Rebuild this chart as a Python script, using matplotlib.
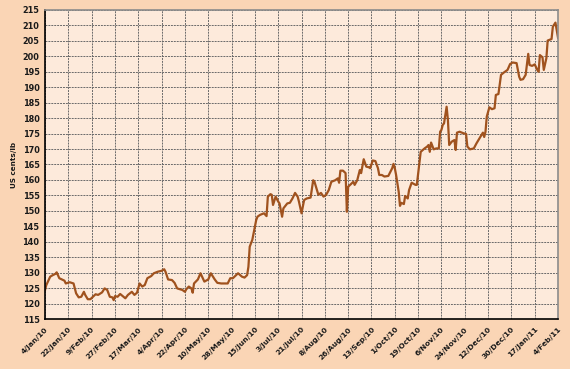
import pandas as pd
import matplotlib.pyplot as plt

# Daily price readings (US cents/lb)
dates = [
    "2010-01-04", "2010-01-05", "2010-01-08", "2010-01-10", "2010-01-12", "2010-01-13",
    "2010-01-15", "2010-01-17", "2010-01-19", "2010-01-20", "2010-01-23", "2010-01-26",
    "2010-01-28", "2010-01-30", "2010-02-01", "2010-02-03", "2010-02-04", "2010-02-06",
    "2010-02-08", "2010-02-10", "2010-02-12", "2010-02-14", "2010-02-17", "2010-02-19",
    "2010-02-21", "2010-02-23", "2010-02-25", "2010-02-26", "2010-02-27", "2010-03-01",
    "2010-03-03", "2010-03-07", "2010-03-09", "2010-03-12", "2010-03-14", "2010-03-16",
    "2010-03-18", "2010-03-20", "2010-03-22", "2010-03-24", "2010-03-27", "2010-03-29",
    "2010-04-01", "2010-04-04", "2010-04-06", "2010-04-07", "2010-04-09", "2010-04-12",
    "2010-04-14", "2010-04-16", "2010-04-20", "2010-04-22", "2010-04-23", "2010-04-25",
    "2010-04-27", "2010-04-28", "2010-04-29", "2010-05-02", "2010-05-04", "2010-05-07",
    "2010-05-10", "2010-05-12", "2010-05-15", "2010-05-17", "2010-05-20", "2010-05-22",
    "2010-05-25", "2010-05-27", "2010-05-29", "2010-06-02", "2010-06-05", "2010-06-07",
    "2010-06-09", "2010-06-10", "2010-06-11", "2010-06-13", "2010-06-14", "2010-06-16",
    "2010-06-17", "2010-06-19", "2010-06-22", "2010-06-24", "2010-06-25", "2010-06-27",
    "2010-06-28", "2010-06-29", "2010-07-01", "2010-07-03", "2010-07-04", "2010-07-06",
    "2010-07-07", "2010-07-10", "2010-07-12", "2010-07-14", "2010-07-16", "2010-07-18",
    "2010-07-19", "2010-07-21", "2010-07-23", "2010-07-25", "2010-07-28", "2010-07-30",
    "2010-07-31", "2010-08-03", "2010-08-05", "2010-08-07", "2010-08-09", "2010-08-11",
    "2010-08-13", "2010-08-16", "2010-08-18", "2010-08-19", "2010-08-20", "2010-08-22",
    "2010-08-24", "2010-08-25", "2010-08-26", "2010-08-28", "2010-08-30", "2010-08-31",
    "2010-09-02", "2010-09-04", "2010-09-05", "2010-09-07", "2010-09-09", "2010-09-11",
    "2010-09-12", "2010-09-14", "2010-09-16", "2010-09-18", "2010-09-19", "2010-09-21",
    "2010-09-23", "2010-09-26", "2010-09-29", "2010-09-30", "2010-10-01", "2010-10-02",
    "2010-10-04", "2010-10-05", "2010-10-06", "2010-10-08", "2010-10-09", "2010-10-11",
    "2010-10-12", "2010-10-14", "2010-10-17", "2010-10-18", "2010-10-21", "2010-10-24",
    "2010-10-26", "2010-10-27", "2010-10-28", "2010-10-29", "2010-10-31", "2010-11-02",
    "2010-11-04", "2010-11-05", "2010-11-06", "2010-11-07", "2010-11-08", "2010-11-10",
    "2010-11-11", "2010-11-12", "2010-11-14", "2010-11-16", "2010-11-17", "2010-11-18",
    "2010-11-20", "2010-11-23", "2010-11-25", "2010-11-26", "2010-11-28", "2010-12-01",
    "2010-12-03", "2010-12-06", "2010-12-08", "2010-12-09", "2010-12-10", "2010-12-11",
    "2010-12-13", "2010-12-15", "2010-12-17", "2010-12-18", "2010-12-20", "2010-12-22",
    "2010-12-24", "2010-12-25", "2010-12-27", "2010-12-29", "2010-12-31", "2011-01-03",
    "2011-01-05", "2011-01-06", "2011-01-08", "2011-01-10", "2011-01-12", "2011-01-13",
    "2011-01-15", "2011-01-17", "2011-01-19", "2011-01-20", "2011-01-21", "2011-01-23",
    "2011-01-24", "2011-01-26", "2011-01-27", "2011-01-30", "2011-01-31", "2011-02-02",
    "2011-02-04",
]
prices = [
    124.4, 126.0, 128.7, 129.2, 129.6, 130.1,
    128.2, 127.8, 127.4, 126.5, 126.9, 126.5,
    123.3, 122.0, 122.2, 123.8, 122.8, 121.4,
    121.4, 122.2, 123.0, 122.8, 123.6, 124.9,
    124.4, 122.2, 122.0, 121.1, 122.4, 122.2,
    123.1, 121.7, 122.8, 123.8, 122.8, 123.5,
    126.5, 125.5, 126.0, 128.2, 128.9, 129.8,
    130.3, 130.6, 131.1, 130.3, 127.8, 127.6,
    126.7, 124.9, 124.4, 123.8, 124.6, 125.5,
    124.9, 123.5, 126.5, 127.8, 129.8, 127.1,
    127.8, 129.8, 127.8, 126.7, 126.5, 126.5,
    126.5, 128.2, 128.2, 129.8, 128.7, 128.4,
    129.2, 131.9, 138.4, 140.6, 142.7, 147.0,
    148.1, 148.7, 149.2, 148.3, 154.6, 155.4,
    155.2, 151.9, 154.6, 153.0, 152.4, 148.1,
    150.8, 152.4, 152.6, 154.0, 155.8, 154.6,
    153.0, 149.2, 153.5, 154.0, 154.3, 159.9,
    159.4, 155.2, 155.8, 154.6, 155.2, 156.7,
    159.4, 159.9, 160.5, 159.1, 163.0, 163.0,
    162.2, 149.7, 157.8, 158.6, 159.4, 158.4,
    159.9, 163.2, 162.2, 166.7, 164.3, 164.1,
    163.8, 166.3, 166.1, 163.8, 161.6, 161.6,
    161.1, 161.3, 163.8, 165.2, 163.8, 161.6,
    156.2, 151.6, 152.6, 152.2, 154.8, 154.0,
    156.7, 159.1, 158.4, 158.4, 169.1, 170.2,
    170.8, 171.3, 169.1, 172.1, 169.9, 170.2,
    170.2, 175.6, 176.2, 177.8, 178.3, 183.7,
    179.4, 171.3, 172.4, 172.9, 169.7, 175.3,
    175.6, 175.1, 174.9, 170.8, 169.9, 170.2,
    171.8, 173.9, 175.3, 173.9, 175.6, 180.5,
    183.5, 182.9, 183.2, 187.5, 187.8, 194.0,
    194.7, 195.0, 195.6, 197.5, 198.0, 197.8,
    193.4, 192.4, 192.6, 194.0, 200.8, 197.2,
    196.9, 197.4, 195.6, 195.0, 200.4, 199.7,
    195.6, 199.4, 205.1, 205.6, 209.6, 210.9,
    206.0,
]

start = pd.Timestamp("2010-01-04")
end = pd.Timestamp("2011-02-04")
x = pd.to_datetime(dates)

fig = plt.figure(figsize=(5.7, 3.69), dpi=100)
fig.patch.set_facecolor("#FAD5B5")
ax = fig.add_axes([0.079, 0.1355, 0.9, 0.8375])
ax.set_facecolor("#FDEADB")

ax.plot(x, prices, color="#A0521E", linewidth=1.6)

# x ticks every 18 days, label like 4/Jan/10
ticks = pd.date_range(start, end, freq="18D")
ax.set_xticks(ticks)
ax.set_xticklabels([f"{d.day}/{d.strftime('%b')}/{d.strftime('%y')}" for d in ticks],
                   rotation=45, ha="right", rotation_mode="anchor",
                   fontsize=5.4, fontweight="bold", color="#1a1a1a")
ax.set_xlim(start, end)

ax.set_ylim(115, 215)
ax.set_yticks(range(115, 216, 5))
for lab in ax.get_yticklabels():
    lab.set_fontsize(5.9)
    lab.set_fontweight("bold")
    lab.set_color("#1a1a1a")
ax.set_ylabel("US cents/lb", fontsize=5.2, fontweight="bold", labelpad=4, color="#1a1a1a")

ax.grid(True, color="#6a6a6a", linestyle=(0, (2, 1)), linewidth=0.7)
ax.set_axisbelow(True)
ax.tick_params(axis="y", length=0, pad=4)
ax.tick_params(axis="x", length=0, pad=5)

ax.spines["left"].set_color("black")
ax.spines["bottom"].set_color("black")
ax.spines["left"].set_linewidth(1.2)
ax.spines["bottom"].set_linewidth(1.2)
for s in ["top", "right"]:
    ax.spines[s].set_color("#8C8C8C")
    ax.spines[s].set_linewidth(1.2)

fig.savefig("out.png", dpi=100, facecolor=fig.get_facecolor())
